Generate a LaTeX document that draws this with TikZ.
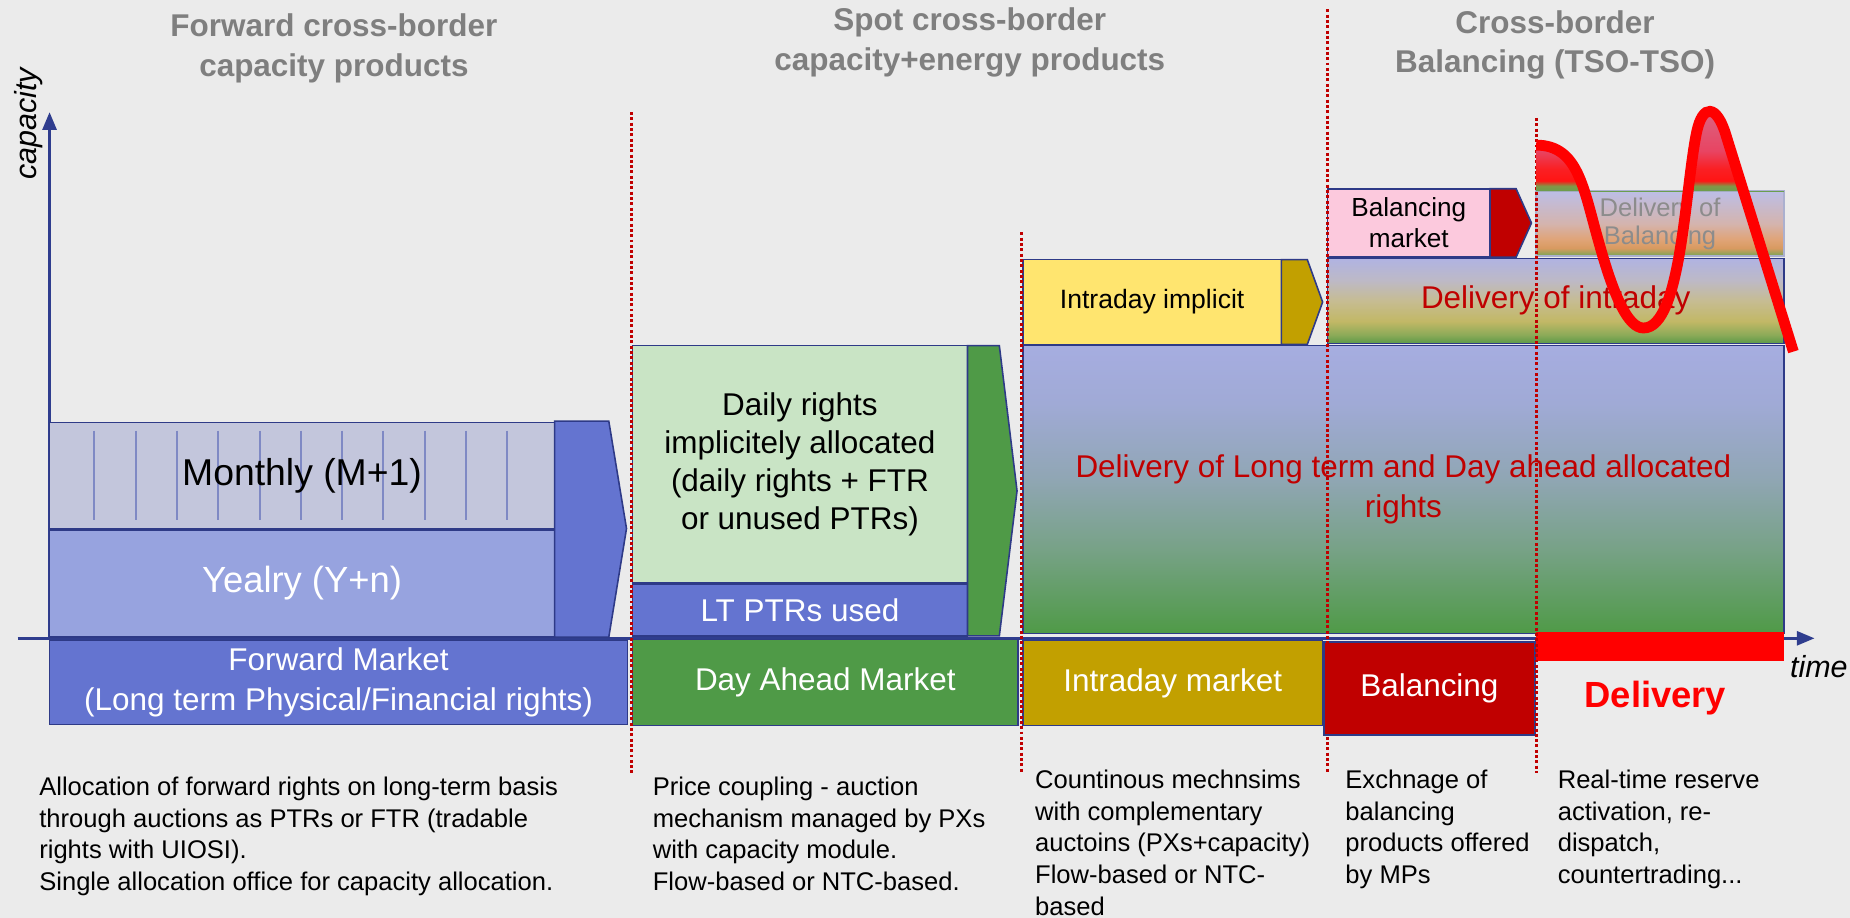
\documentclass[tikz,border=0pt]{standalone}
\usepackage{fontspec}
\setmainfont{Liberation Sans}
\usetikzlibrary{arrows.meta}

\definecolor{bgGray}{HTML}{EBEBEB}
\definecolor{axisBlue}{HTML}{2F3D8E}
\definecolor{edgeBlue}{HTML}{2E3A87}
\definecolor{monthFill}{HTML}{C3C6DC}
\definecolor{monthLine}{HTML}{7F89C4}
\definecolor{yearFill}{HTML}{97A3DF}
\definecolor{fwdBlue}{HTML}{6474D0}
\definecolor{dailyGreen}{HTML}{C9E4C5}
\definecolor{daGreen}{HTML}{4F9A47}
\definecolor{idYellow}{HTML}{FFE56F}
\definecolor{idGold}{HTML}{C2A000}
\definecolor{balPink}{HTML}{FCC9DD}
\definecolor{balRed}{HTML}{C00000}
\definecolor{liveRed}{HTML}{FF0000}
\definecolor{titleGray}{HTML}{7F7F7F}

\pgfdeclareverticalshading{ltshade}{100bp}{color(0bp)=(daGreen); color(25bp)=(daGreen);
  color(40bp)=(rgb,255:red,120;green,162;blue,136); color(52bp)=(rgb,255:red,144;green,166;blue,180);
  color(65bp)=(rgb,255:red,160;green,170;blue,214); color(75bp)=(rgb,255:red,166;green,173;blue,224);
  color(100bp)=(rgb,255:red,166;green,173;blue,224)}
\pgfdeclareverticalshading{idshade}{100bp}{color(0bp)=(rgb,255:red,92;green,154;blue,72);
  color(25bp)=(rgb,255:red,92;green,154;blue,72); color(30bp)=(rgb,255:red,140;green,170;blue,88);
  color(38bp)=(rgb,255:red,194;green,184;blue,102); color(50bp)=(rgb,255:red,198;green,188;blue,146);
  color(62bp)=(rgb,255:red,189;green,185;blue,198); color(75bp)=(rgb,255:red,176;green,179;blue,226);
  color(100bp)=(rgb,255:red,176;green,179;blue,226)}
\pgfdeclareverticalshading{balshade}{100bp}{color(0bp)=(rgb,255:red,116;green,166;blue,85);
  color(25bp)=(rgb,255:red,116;green,166;blue,85); color(31bp)=(rgb,255:red,216;green,154;blue,96);
  color(38bp)=(rgb,255:red,224;green,164;blue,120); color(50bp)=(rgb,255:red,212;green,180;blue,174);
  color(75bp)=(rgb,255:red,188;green,190;blue,230); color(100bp)=(rgb,255:red,188;green,190;blue,230)}
\pgfdeclareverticalshading{humpshade}{100bp}{color(0bp)=(rgb,255:red,106;green,158;blue,78);
  color(25bp)=(rgb,255:red,106;green,158;blue,78); color(28bp)=(rgb,255:red,130;green,150;blue,70);
  color(31bp)=(rgb,255:red,255;green,20;blue,20); color(38bp)=(rgb,255:red,250;green,32;blue,36);
  color(48bp)=(rgb,255:red,232;green,68;blue,98); color(75bp)=(rgb,255:red,216;green,106;blue,136);
  color(100bp)=(rgb,255:red,216;green,106;blue,136)}

\tikzstyle{block}=[draw=edgeBlue,line width=0.8pt,inner sep=0pt,align=center,font=\fontsize{16}{20.4}\selectfont]
\tikzstyle{title}=[text=titleGray,align=center,font=\fontsize{16}{20}\selectfont\bfseries]
\tikzstyle{note}=[anchor=north west,inner sep=0pt,align=left,font=\fontsize{13}{16.2}\selectfont]
\tikzstyle{chev}=[draw=edgeBlue,line width=0.8pt]
\tikzstyle{sep}=[balRed,line width=1.5pt,dash pattern=on 1.5pt off 1.2pt]
\tikzstyle{axis}=[axisBlue,line width=1.6pt,-{Triangle[length=9pt,width=7pt]}]

\begin{document}
\begin{tikzpicture}[x=0.6pt,y=-0.6pt]
  \fill[bgGray] (0,0) rectangle (1568,778);
  \useasboundingbox (0,0) rectangle (1568,778);

  % headings
  \node[title] (T1) at (283,41) {Forward cross-border\\capacity products};
  \node[title] (T2) at (822,36) {Spot cross-border\\capacity+energy products};
  \node[title] (T3) at (1318,38) {Cross-border\\Balancing (TSO-TSO)};

  % axes
  \coordinate (O) at (42,541);
  \coordinate (Ytop) at (42,95);
  \coordinate (Xleft) at (15,541);
  \coordinate (Xend) at (1538,541);
  \draw[axis] (O) -- (Ytop);
  \draw[axis] (Xleft) -- (Xend);
  \node[rotate=90,font=\fontsize{15.5}{18}\selectfont\itshape] (cap) at (24,105) {capacity};
  \node[anchor=east,inner sep=1pt,font=\fontsize{15.5}{18}\selectfont\itshape] (time) at (1568,565) {time};

  % forward products
  \node[block,fill=monthFill,minimum width=256.8pt,minimum height=54pt] (M) at (256,403) {};
  \foreach \i in {0,...,10}
    \draw[monthLine,line width=1pt] (80+35*\i,365) -- (80+35*\i,441);
  \node[font=\fontsize{19}{22}\selectfont] (Mtxt) at (M) {Monthly (M+1)};
  \node[block,fill=yearFill,text=white,minimum width=256.8pt,minimum height=54.6pt,
        font=\fontsize{18.5}{22}\selectfont] (Y) at (256,494.5) {Yealry (Y+n)};
  \filldraw[chev,fill=fwdBlue] (470,357) -- (516,357) -- (531,448) -- (516,540) -- (470,540) -- cycle;
  \node[block,fill=fwdBlue,text=white,minimum width=294pt,minimum height=42.6pt] (FM) at (287,578.5)
    {Forward Market\\(Long term Physical/Financial rights)};

  % spot products
  \node[block,fill=dailyGreen,minimum width=170.4pt,minimum height=120.6pt,
        font=\fontsize{16}{19.2}\selectfont] (DR) at (678,393.5)
    {Daily rights\\implicitely allocated\\(daily rights + FTR\\or unused PTRs)};
  \node[block,fill=fwdBlue,text=white,minimum width=170.4pt,minimum height=26.4pt] (LT) at (678,517) {LT PTRs used};
  \filldraw[chev,fill=daGreen] (820,293) -- (847,293) -- (862,416) -- (847,539) -- (820,539) -- cycle;
  \node[block,fill=daGreen,text=white,minimum width=196.2pt,minimum height=43.8pt] (DA) at (699.5,578.5) {Day Ahead Market};

  % intraday
  \node[block,fill=idYellow,minimum width=131.4pt,minimum height=43.2pt,
        font=\fontsize{13.5}{16}\selectfont] (II) at (976.5,256) {Intraday implicit};
  \filldraw[chev,fill=idGold] (1086,220) -- (1108,220) -- (1121,256) -- (1108,292) -- (1086,292) -- cycle;
  \node[block,shade,shading=ltshade,text=balRed,minimum width=387pt,minimum height=146.4pt] (LD) at (1189.5,415)
    {Delivery of Long term and Day ahead allocated\\rights};
  \node[block,fill=idGold,text=white,minimum width=152.4pt,minimum height=43.2pt] (IM) at (994,579) {Intraday market};

  % balancing
  \node[block,fill=balPink,minimum width=82.8pt,minimum height=34.8pt,
        font=\fontsize{13.3}{15.8}\selectfont] (BM) at (1194,189) {Balancing\\market};
  \filldraw[chev,fill=balRed] (1263,160) -- (1285,160) -- (1298,189) -- (1285,218) -- (1263,218) -- cycle;
  \node[block,shade,shading=idshade,text=balRed,minimum width=232.2pt,minimum height=43.2pt] (ID) at (1318.5,255)
    {Delivery of intraday};
  \node[block,fill=balRed,text=white,minimum width=107.4pt,minimum height=47.4pt] (BL) at (1211.5,583.5) {Balancing};

  % delivery
  \node[block,draw=edgeBlue!40,shade,shading=balshade,text=black!45,minimum width=126pt,minimum height=33pt,
        font=\fontsize{13}{14.4}\selectfont] (DB) at (1407,189.5) {Delivery of\\Balancing};
  \node[fill=liveRed,inner sep=0pt,minimum width=126pt,minimum height=14.4pt] (DBar) at (1407,548) {};
  \node[text=liveRed,font=\fontsize{18.5}{22}\selectfont\bfseries] (DL) at (1403,592) {Delivery};

  % phase borders
  \draw[sep] (535,95) -- (535,657);
  \draw[sep] (866,197) -- (866,655);
  \draw[sep] (1125,8) -- (1125,655);
  \draw[sep] (1302,100) -- (1302,655);

  % real-time curve
  \begin{scope}
    \clip (1302,60) rectangle (1512,162);
    \clip (1302,123) .. controls (1338,123) and (1342,160) .. (1355,205)
      .. controls (1368,252) and (1380,278) .. (1393,278)
      .. controls (1425,278) and (1428,160) .. (1438,112)
      .. controls (1443,88) and (1455,88) .. (1463,115) -- (1520,298)
      -- (1520,162) -- (1302,162) -- cycle;
    \shade[shading=humpshade] (1302,88) rectangle (1512,162);
  \end{scope}
  \draw[liveRed,line width=5.5pt] (1302,123) .. controls (1338,123) and (1342,160) .. (1355,205)
    .. controls (1368,252) and (1380,278) .. (1393,278)
    .. controls (1425,278) and (1428,160) .. (1438,112)
    .. controls (1443,88) and (1455,88) .. (1463,115) -- (1520,298);

  % descriptions
  \node[note] (N1) at (33,658) {Allocation of forward rights on long-term basis\\through auctions as PTRs or FTR (tradable\\rights with UIOSI).\\Single allocation office for capacity allocation.};
  \node[note] (N2) at (553,658) {Price coupling - auction\\mechanism managed by PXs\\with capacity module.\\Flow-based or NTC-based.};
  \node[note] (N3) at (877,652) {Countinous mechnsims\\with complementary\\auctoins (PXs+capacity)\\Flow-based or NTC-\\based};
  \node[note] (N4) at (1140,652) {Exchnage of\\balancing\\products offered\\by MPs};
  \node[note] (N5) at (1320,652) {Real-time reserve\\activation, re-\\dispatch,\\countertrading...};
\end{tikzpicture}
\end{document}
